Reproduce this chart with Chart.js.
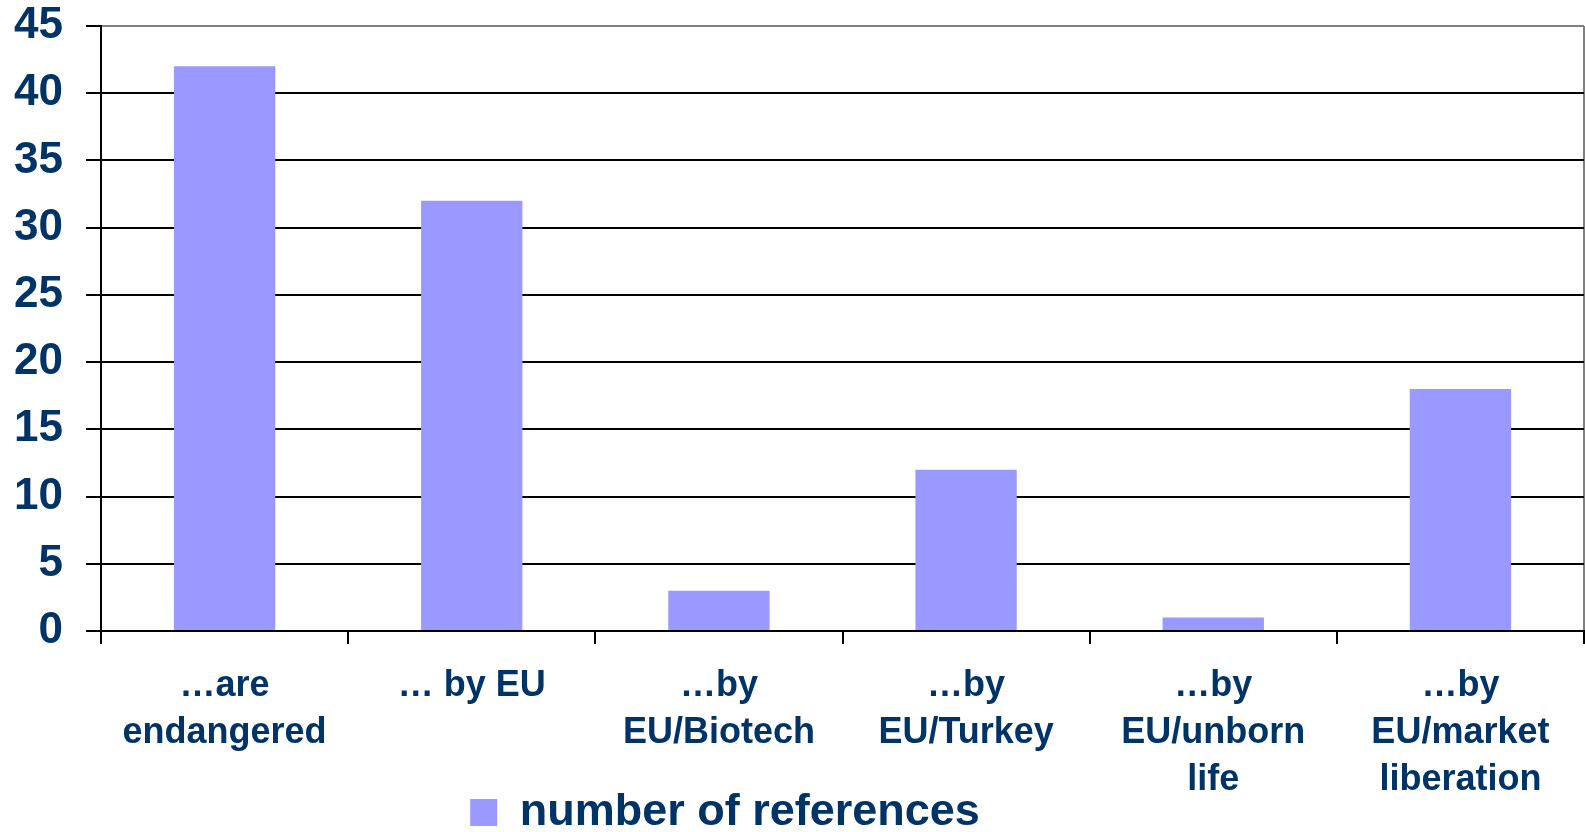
<!DOCTYPE html>
<html>
<head>
<meta charset="utf-8">
<title>number of references</title>
<script src="https://cdn.jsdelivr.net/npm/chart.js@4"></script>
<style>
  html, body { margin: 0; padding: 0; background: #fff; }
  #wrap { width: 1585px; height: 832px; }
</style>
</head>
<body>
<div id="wrap"><canvas id="refChart"></canvas></div>
<script>
// datos
var categorias = [
  ['…are', 'endangered'],
  ['… by EU'],
  ['…by', 'EU/Biotech'],
  ['…by', 'EU/Turkey'],
  ['…by', 'EU/unborn', 'life'],
  ['…by', 'EU/market', 'liberation']
];
var referencias = [42, 32, 3, 12, 1, 18];
var serieNombre = 'number of references';
var yMin = 0, yMax = 45, yPaso = 5;

var azul = '#003366';
var barra = '#9999ff';
var fuente = "Arial, 'Liberation Sans', sans-serif";

// mueve la leyenda un poco a la izquierda, como en el original
var moverLeyenda = {
  id: 'moverLeyenda',
  afterLayout: function (chart) {
    if (chart.legend) {
      chart.legend.left -= 67;
      chart.legend.right -= 67;
    }
  }
};

var ctx = document.getElementById('refChart');
var grafica = new Chart(ctx, {
  type: 'bar',
  data: {
    labels: categorias,
    datasets: [{
      label: serieNombre,
      data: referencias,
      backgroundColor: barra,
      borderWidth: 0,
      barPercentage: 0.41,
      categoryPercentage: 1
    }]
  },
  options: {
    responsive: true,
    maintainAspectRatio: false,
    animation: false,
    layout: { padding: { left: 0, right: 1, top: 0, bottom: -13 } },
    plugins: {
      tooltip: { enabled: false },
      legend: {
        display: true,
        position: 'bottom',
        labels: {
          boxWidth: 27,
          boxHeight: 27,
          padding: 0,
          color: azul,
          font: { family: fuente, size: 45, weight: 'bold' }
        }
      }
    },
    scales: {
      x: {
        offset: true,
        border: { display: true, color: '#000', width: 2 },
        grid: {
          offset: true,
          drawOnChartArea: true,
          drawTicks: true,
          tickLength: 13,
          tickColor: '#000',
          tickWidth: 2,
          lineWidth: 2,
          // solo la linea del borde derecho, en gris
          color: function (c) { return c.type === 'tick' ? 'rgba(0,0,0,0)' : '#808080'; }
        },
        ticks: {
          color: azul,
          padding: 19,
          maxRotation: 0,
          autoSkip: false,
          font: { family: fuente, size: 36, weight: 'bold', lineHeight: 1.3 }
        },
        afterFit: function (scale) { scale.height = 159; }
      },
      y: {
        min: yMin,
        max: yMax,
        border: { display: true, color: '#000', width: 2 },
        grid: {
          drawTicks: true,
          tickLength: 15,
          tickColor: '#000',
          tickWidth: 2,
          lineWidth: 2,
          color: function (c) { return c.tick && c.tick.value === yMax ? '#808080' : '#000'; }
        },
        ticks: {
          stepSize: yPaso,
          color: azul,
          padding: 23,
          font: { family: fuente, size: 44, weight: 'bold', lineHeight: 1.18 }
        },
        afterFit: function (scale) {
          scale.width = 101;
          scale.paddingTop = 26;
          scale.paddingBottom = 26;
        }
      }
    }
  },
  plugins: [moverLeyenda]
});
</script>
</body>
</html>
